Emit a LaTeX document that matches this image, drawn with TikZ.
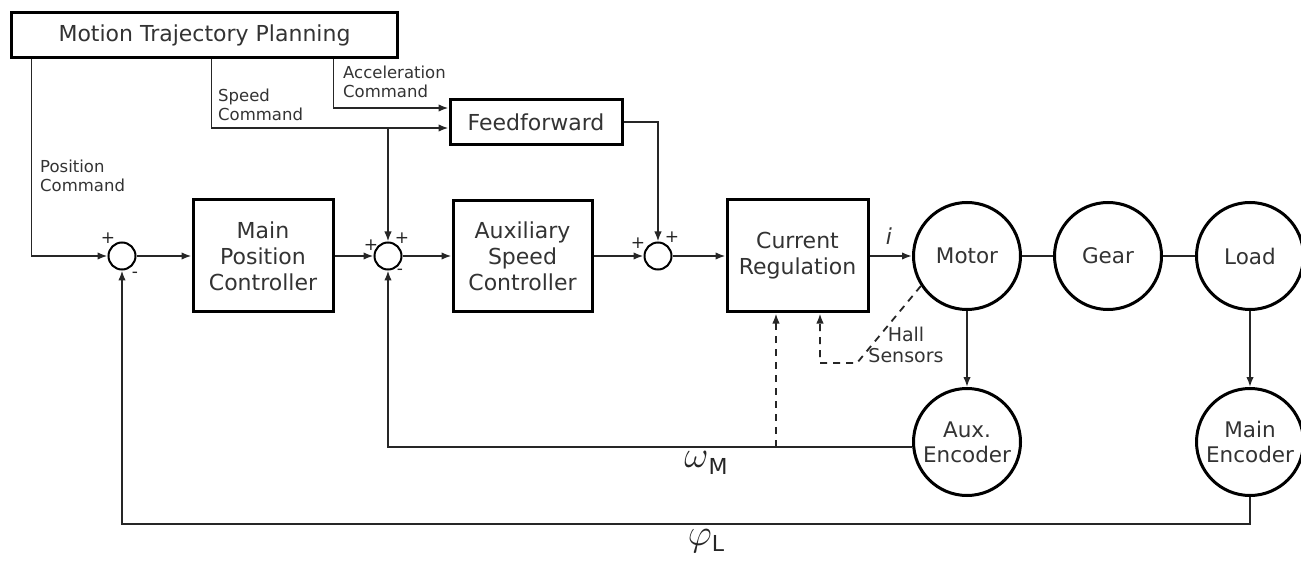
\documentclass[tikz,border=0pt]{standalone}
\usepackage{fontspec}
\setmainfont{DejaVu Sans}
\usetikzlibrary{arrows.meta}
\begin{document}
\begin{tikzpicture}[x=1pt,y=-1pt,
 blk/.style={draw,line width=3pt,inner sep=0,align=center,font=\fontsize{22}{26}\selectfont,text=black!80},
 circ/.style={draw,circle,line width=3pt,minimum size=107pt,inner sep=0,align=center,font=\fontsize{21.5}{25}\selectfont,text=black!80},
 sumj/.style={draw,circle,line width=2pt,minimum size=27pt,inner sep=0},
 conn/.style={line width=1.8pt,draw=black!85},
 arr/.style={conn,-{Latex[length=10pt,width=7.5pt]}},
 lbl/.style={font=\fontsize{16.5}{18.5}\selectfont,align=left,inner sep=0,anchor=north west,text=black!80},
 sgn/.style={font=\fontsize{17}{17}\selectfont,inner sep=0,text=black!85}
]
\useasboundingbox (0,0) rectangle (1301,561);
\fill[white] (0,0) rectangle (1301,561);

% blocks
\node[blk,minimum width=386pt,minimum height=45pt] (mtp) at (204.5,35) {Motion Trajectory Planning};
\node[blk,minimum width=172pt,minimum height=45pt] (ff) at (536,122) {Feedforward};
\node[blk,minimum width=140pt,minimum height=112pt] (mpc) at (263,256) {Main\\Position\\Controller};
\node[blk,minimum width=139pt,minimum height=111pt] (asc) at (522.5,256) {Auxiliary\\Speed\\Controller};
\node[blk,minimum width=141pt,minimum height=112pt] (cr) at (797.5,256) {Current\\Regulation};

% summing junctions
\node[sumj] (s1) at (122,256) {};
\node[sumj] (s2) at (388,256) {};
\node[sumj] (s3) at (658,256) {};

% circles
\node[circ] (motor) at (967,256) {Motor};
\node[circ] (gear) at (1108,256) {Gear};
\node[circ] (load) at (1250,256) {Load};
\node[circ] (aux) at (967,442) {Aux.\\Encoder};
\node[circ] (menc) at (1250,442) {Main\\Encoder};

% commands from planning
\draw[arr] ([xshift=21.5pt]mtp.south west) |- (s1.west);
\draw[arr] ([xshift=201.5pt]mtp.south west) |- ([yshift=-6pt]ff.west);
\draw[arr] ([xshift=323.5pt]mtp.south west) |- ([yshift=14pt]ff.west);
\coordinate (sb) at (388,128);
\draw[arr] (sb) -- (s2.north);
\draw[arr] (ff.east) -| (s3.north);

\node[lbl] (lpos) at (40,160) {Position\\Command};
\node[lbl] (lspd) at (218,89) {Speed\\Command};
\node[lbl] (lacc) at (343,66) {Acceleration\\Command};

% forward path
\draw[arr] (s1.east) -- (mpc.west);
\draw[arr] (mpc.east) -- (s2.west);
\draw[arr] (s2.east) -- (asc.west);
\draw[arr] (asc.east) -- (s3.west);
\draw[arr] (s3.east) -- (cr.west);
\draw[arr] (cr.east) -- (motor.west);
\node[font=\fontsize{22}{22}\selectfont\itshape,text=black!80] (li) at (889,236) {i};
\draw[conn] (motor.east) -- (gear.west);
\draw[conn] (gear.east) -- (load.west);
\draw[arr] (motor.south) -- (aux.north);
\draw[arr] (load.south) -- (menc.north);

% feedback
\draw[arr] (aux.185) -| (s2.south);
\draw[arr] (menc.south) -- ++(0,27) -| (s1.south);
\node[font=\fontsize{24}{24}\selectfont,text=black!85,inner sep=0] (lw) at (706,463) {\scalebox{1.5}{$\omega$}\raisebox{-0.5ex}{\fontsize{22}{22}\selectfont M}};
\node[font=\fontsize{24}{24}\selectfont,text=black!85,inner sep=0] (lp) at (706,541) {\scalebox{1.5}{$\varphi$}\raisebox{-0.5ex}{\fontsize{22}{22}\selectfont L}};

% dashed sensing
\coordinate (d1) at ([xshift=-21.5pt]cr.south);
\coordinate (d2) at ([xshift=22.5pt]cr.south);
\coordinate (hk) at (857,363);
\draw[arr,dashed,dash pattern=on 7pt off 6pt] (d1 |- aux.185) -- (d1);
\draw[arr,dashed,dash pattern=on 7pt off 6pt] (motor.213) -- (hk) -| (d2);
\node[font=\fontsize{19}{21}\selectfont,align=center,inner sep=0,text=black!80] (lhall) at (906,345) {Hall\\Sensors};

% signs
\node[sgn] (p1) at (108,238) {+};
\node[sgn] (m1) at (135,275) {-};
\node[sgn] (p2) at (371,245) {+};
\node[sgn] (p3) at (402,238) {+};
\node[sgn] (m2) at (400,272) {-};
\node[sgn] (p4) at (638,243) {+};
\node[sgn] (p5) at (672,237) {+};
\end{tikzpicture}
\end{document}
